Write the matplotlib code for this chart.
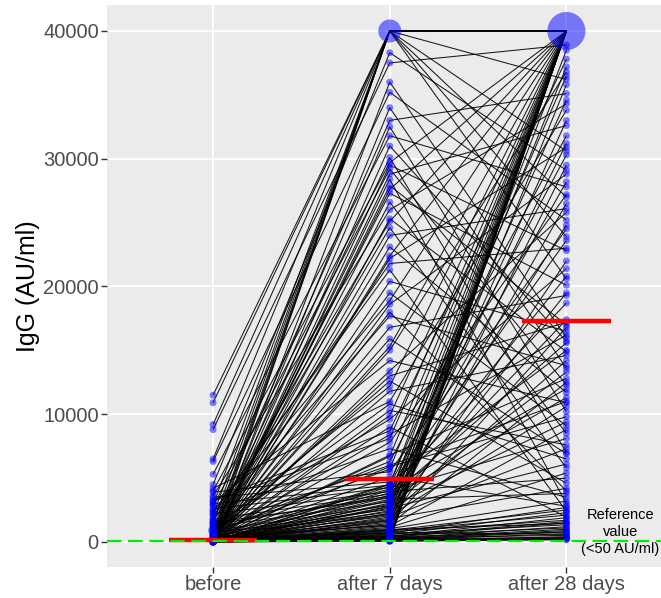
import matplotlib
matplotlib.use("Agg")
import matplotlib.pyplot as plt
import numpy as np

plt.rcParams['font.family'] = ['Liberation Sans', 'DejaVu Sans']

timepoints = ["before", "after 7 days", "after 28 days"]

# one entry per subject, same order in the three lists
before = [
    # reach 40000 after 7 days
    11500, 10900, 9200, 6500, 2900, 2100, 1500, 900, 610, 305, 122,
    # reach 40000 after 28 days
    4000, 44, 1600, 0, 2400, 63, 1000, 83, 3200, 102, 780, 17,
    1350, 26, 520, 52, 400, 72, 280, 92, 230, 112, 180, 142,
    # low responders
    5, 12, 20, 8, 30, 15, 40, 3, 25, 50, 10, 35, 60, 18, 70, 2, 45, 80,
    28, 55, 90, 100, 6, 65, 38,
    # slow start, later rise
    120, 14, 75, 200, 22, 160, 4, 260, 95, 42, 330, 130, 9, 480, 58, 700,
    140, 33, 900, 170, 16, 1200, 85, 210, 1520, 48, 380, 1800, 110, 2200,
    27, 600, 2600, 68, 3000, 250, 3500,
    # the rest
    145, 3900, 135, 720, 125, 2500, 115, 360, 105, 1400, 98, 4200, 88, 560,
    78, 3100, 66, 300, 57, 1780, 47, 640, 37, 2300, 29, 245, 21, 1100, 13,
    3600, 7, 470, 1, 205, 11, 2800, 19, 950, 34, 5300, 175, 1650, 420, 6300,
    155, 8800, 4500, 165, 190, 3300, 1250, 820, 2000,
]

day7 = [
    40000, 40000, 40000, 40000, 40000, 40000, 40000, 40000, 40000, 40000, 40000,
    29700, 27600, 25100, 22400, 18900, 15300, 12200, 9900, 8100, 6700, 5700, 4500,
    3600, 2800, 2200, 1700, 1300, 950, 700, 480, 330, 210, 145, 95,
    60, 90, 110, 150, 200, 240, 280, 320, 360, 400, 450, 500, 560, 620, 680, 740,
    800, 860, 920, 980, 130, 70, 180, 260, 430,
    1050, 1150, 1250, 1350, 1450, 1550, 1650, 1750, 1850, 1950, 2050, 2150, 2250,
    2350, 2450, 2550, 2650, 2750, 2850, 2950, 3050, 3150, 3250, 3350, 3450, 3550,
    3650, 3750, 3850, 3950, 4050, 4150, 4250, 4350, 4450, 4550, 4700,
    5100, 5500, 5900, 6300, 6800, 7300, 7800, 8400, 9000, 9600, 10300, 11000,
    11800, 12600, 13400, 14200, 15000, 15900, 16800, 17700, 18600, 19500, 20400,
    21300, 22200, 23100, 24000, 24600, 25300, 26000, 26600, 27300, 27900, 28400,
    28800, 29200, 29500, 30100, 31000, 31800, 32500, 33000, 34000, 35200, 36000,
    37500, 38300, 18000, 13000, 8700, 6000, 10800, 21800,
]

day28 = [
    40000, 36200, 40000, 30600, 40000, 27000, 40000, 23900, 40000, 20600, 40000,
    40000, 40000, 40000, 40000, 40000, 40000, 40000, 40000, 40000, 40000, 40000, 40000,
    40000, 40000, 40000, 40000, 40000, 40000, 40000, 40000, 40000, 40000, 40000, 40000,
    180, 420, 260, 650, 900, 350, 1200, 520, 1500, 780, 1900, 1100, 2300, 1350,
    2700, 600, 1700, 2100, 2500, 1450, 300, 220, 800, 1000, 1600,
    3200, 5400, 8800, 12500, 16800, 22000, 29500, 35800, 4200, 7300, 10600, 14200,
    19500, 26500, 33000, 38500, 6100, 9400, 13300, 17400, 24800, 31200, 37200,
    3800, 11300, 15600, 20800, 28200, 34600, 5000, 8100, 12000, 18700, 23600,
    30300, 36500, 15000,
    2800, 24500, 9800, 31800, 12800, 3500, 27200, 16200, 1950, 21400, 7600, 33800,
    14600, 4600, 25800, 10900, 36800, 6900, 19300, 13800, 28800, 9100, 16500, 2400,
    30900, 11700, 26100, 5800, 14900, 34300, 8500, 20100, 17000, 3000, 32600, 12300,
    22800, 7000, 15700, 27800, 10200, 35100, 13600, 25200, 16000, 38900, 29100,
    4000, 17200, 37800, 11000, 6500, 23000,
]

reference_value = 50

series = [np.array(before), np.array(day7), np.array(day28)]
xs = np.arange(1, len(timepoints) + 1)

fig = plt.figure(figsize=(6.61, 5.98), dpi=100)
# right side of the panel runs past the figure edge, as in the original
ax = fig.add_axes([107.1 / 661, 31 / 598, 565.3 / 661, 562 / 598])
ax.set_facecolor('#EBEBEB')

# subject trajectories
for i in range(len(before)):
    ax.plot(xs, [s[i] for s in series], color='black', lw=0.75, alpha=0.9,
            zorder=2, solid_capstyle='butt')

# points, sized by how many subjects share a value
for x, vals in zip(xs, series):
    u, c = np.unique(vals, return_counts=True)
    ax.scatter(np.full(len(u), x), u, s=25 * c, color='blue', alpha=0.5,
               edgecolors='none', zorder=3)

# medians
for x, vals in zip(xs, series):
    m = np.median(vals)
    ax.plot([x - 0.25, x + 0.25], [m, m], color='red', lw=3.2, zorder=4,
            solid_capstyle='butt')

ax.axhline(reference_value, color='#00EE00', lw=1.6, dashes=(6.5, 3), zorder=5)
ax.text(3.305, 780, "Reference\nvalue\n(<50 AU/ml)", ha='center', va='center',
        fontsize=10.5, linespacing=1.3, zorder=6)

ax.set_xlim(0.4, 3.6)
ax.set_ylim(-1957, 42035)
ax.set_xticks(xs)
ax.set_xticklabels(timepoints)
ax.set_yticks([0, 10000, 20000, 30000, 40000])
ax.grid(True, color='white', lw=1.3)
ax.set_axisbelow(True)
for sp in ax.spines.values():
    sp.set_visible(False)
ax.tick_params(axis='both', colors='#333333', length=4, width=1,
               labelsize=14.5, labelcolor='#4D4D4D', pad=2)
ax.set_ylabel("IgG (AU/ml)", fontsize=18, labelpad=2)

fig.savefig("out.png", dpi=100)
